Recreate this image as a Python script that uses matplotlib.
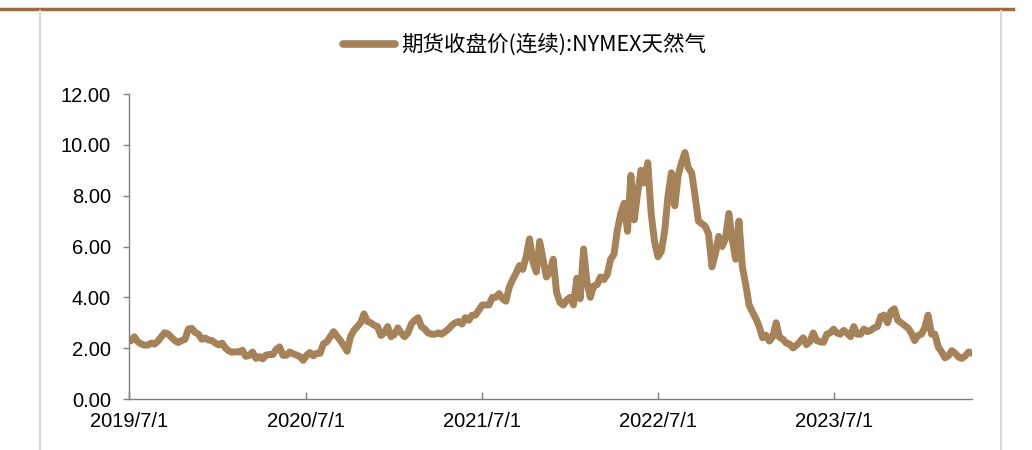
import matplotlib
matplotlib.use("Agg")
import matplotlib.pyplot as plt
import matplotlib.dates as mdates
from matplotlib.lines import Line2D
from matplotlib.ticker import FuncFormatter
import numpy as np
import pandas as pd

plt.rcParams['font.family'] = ['Liberation Sans', 'DejaVu Sans']

# NYMEX natural gas, continuous contract closing price, weekly (Friday) values
prices_2019 = [2.29, 2.45, 2.26, 2.17, 2.12, 2.12, 2.20, 2.16, 2.28, 2.45, 2.61, 2.56, 2.43,
               2.30, 2.22, 2.30, 2.35, 2.75, 2.78, 2.62, 2.55, 2.35, 2.40, 2.32, 2.30, 2.20]
prices_2020 = [2.13, 2.20, 2.00, 1.89, 1.84, 1.86, 1.85, 1.92, 1.68, 1.71, 1.85, 1.60, 1.67,
               1.58, 1.73, 1.75, 1.75, 1.95, 2.05, 1.72, 1.72, 1.85, 1.78, 1.73, 1.67, 1.52,
               1.72, 1.83, 1.70, 1.80, 1.80, 2.18, 2.25, 2.45, 2.65, 2.47, 2.30, 2.10, 1.88,
               2.45, 2.70, 2.85, 3.00, 3.35, 3.05, 3.00, 2.90, 2.85, 2.50, 2.60, 2.85, 2.45]
prices_2021 = [2.54, 2.80, 2.60, 2.45, 2.60, 2.95, 3.10, 3.20, 2.85, 2.75, 2.60, 2.55, 2.55,
               2.60, 2.55, 2.65, 2.75, 2.90, 3.00, 3.05, 2.95, 3.20, 3.10, 3.30, 3.30, 3.50,
               3.70, 3.70, 3.70, 4.00, 4.00, 4.15, 3.95, 3.85, 4.40, 4.70, 4.95, 5.25, 5.10,
               5.60, 6.30, 5.40, 5.00, 6.20, 5.50, 4.80, 5.00, 5.50, 4.20, 3.80, 3.70, 3.90, 4.00]
prices_2022 = [3.70, 4.75, 3.95, 5.90, 4.60, 4.00, 4.45, 4.50, 4.80, 4.70, 4.90, 5.50,
               5.70, 6.65, 7.30, 7.70, 6.60, 8.80, 7.05, 8.10, 9.00, 8.50, 9.30, 7.30, 6.20,
               5.60, 5.80, 6.60, 8.00, 8.90, 7.60, 8.80, 9.30, 9.70, 9.10, 8.90, 8.00, 7.00,
               6.90, 6.80, 6.50, 5.20, 5.70, 6.40, 6.00, 6.30, 7.30, 6.30, 5.50, 7.00, 5.20, 4.50]
prices_2023 = [3.70, 3.42, 3.17, 2.85, 2.41, 2.51, 2.28, 2.45, 3.00, 2.43, 2.35, 2.20, 2.16,
               2.01, 2.11, 2.25, 2.41, 2.14, 2.26, 2.60, 2.30, 2.25, 2.23, 2.55, 2.60, 2.75,
               2.60, 2.55, 2.70, 2.60, 2.45, 2.85, 2.55, 2.55, 2.75, 2.65, 2.70, 2.80, 2.85,
               3.25, 3.30, 3.00, 3.45, 3.55, 3.10, 3.00, 2.90, 2.80, 2.60, 2.30, 2.50, 2.55]
prices_2024 = [2.80, 3.30, 2.55, 2.55, 2.05, 1.85, 1.62, 1.70, 1.90, 1.80, 1.65, 1.60, 1.70,
               1.85, 1.80]

prices = np.array(prices_2019 + prices_2020 + prices_2021 + prices_2022 + prices_2023 + prices_2024)
dates = pd.date_range('2019-07-05', periods=len(prices), freq='W-FRI')

year_ticks = pd.to_datetime(['2019-07-01', '2020-07-01', '2021-07-01', '2022-07-01', '2023-07-01'])
y_ticks = [0, 2, 4, 6, 8, 10, 12]

line_color = '#A68259'
axis_color = '#7F7F7F'
series_name = '期货收盘价(连续):NYMEX天然气'

fig = plt.figure(figsize=(10.32, 4.5), dpi=100)
ax = fig.add_axes([0.125, 0.1133, 0.8169, 0.6777])

ax.plot(dates, prices, color=line_color, linewidth=5.0, solid_joinstyle='round',
        solid_capstyle='round', label=series_name)

ax.set_xlim(pd.Timestamp('2019-07-01'), dates[-1])
ax.set_ylim(0, 12)
ax.set_yticks(y_ticks)
ax.yaxis.set_major_formatter(FuncFormatter(lambda v, p: f"{v:.2f}"))
ax.set_xticks(year_ticks)
ax.xaxis.set_major_formatter(FuncFormatter(
    lambda v, p: f"{mdates.num2date(v).year}/{mdates.num2date(v).month}/{mdates.num2date(v).day}"))

for side in ['top', 'right']:
    ax.spines[side].set_visible(False)
for side in ['left', 'bottom']:
    ax.spines[side].set_color(axis_color)
    ax.spines[side].set_linewidth(1.0)

ax.tick_params(axis='y', direction='out', length=4, width=1, color=axis_color,
               labelsize=14.5, pad=9, labelcolor='black')
ax.tick_params(axis='x', direction='in', length=5, width=1, color=axis_color,
               labelsize=14.5, pad=9, labelcolor='black')

leg = ax.legend(loc='center', bbox_to_anchor=(0.508, 0.9), bbox_transform=fig.transFigure,
                frameon=False, handlelength=2.45, handletextpad=0.25,
                prop={'family': ['Noto Sans CJK SC', 'DejaVu Sans'], 'size': 15.5})
for h in leg.get_lines():
    h.set_linewidth(5.5)
    h.set_solid_capstyle('round')

# page decoration: brown rule on top, light grey frame sides
fig.add_artist(Line2D([0.0, 0.982], [0.981, 0.981], transform=fig.transFigure,
                      color='#9C6B3D', linewidth=2.5))
fig.add_artist(Line2D([0.039, 0.039], [0.0, 0.975], transform=fig.transFigure,
                      color='#D9D9D9', linewidth=1.5))
fig.add_artist(Line2D([0.970, 0.970], [0.0, 0.975], transform=fig.transFigure,
                      color='#D9D9D9', linewidth=1.5))

fig.savefig('out.png', dpi=100)
